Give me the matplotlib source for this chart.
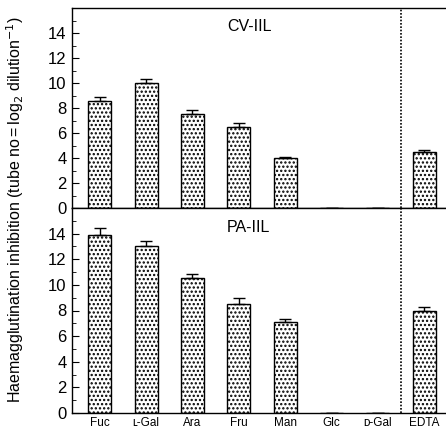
import matplotlib
matplotlib.use("Agg")
import matplotlib.pyplot as plt
import numpy as np
from matplotlib.ticker import MultipleLocator

# ============ DATA ============
sugars = ["Fuc", "\u029f-Gal", "Ara", "Fru", "Man", "Glc", "\u1d05-Gal", "EDTA"]
cv_vals = [8.55, 10.0, 7.55, 6.5, 4.0, 0.0, 0.0, 4.5]
cv_err = [0.3, 0.35, 0.3, 0.3, 0.1, 0.0, 0.0, 0.12]
pa_vals = [13.9, 13.0, 10.5, 8.5, 7.1, 0.0, 0.0, 8.0]
pa_err = [0.55, 0.45, 0.35, 0.45, 0.25, 0.0, 0.0, 0.3]
panel_names = ["CV-IIL", "PA-IIL"]

plt.rcParams['font.family'] = ['Liberation Sans', 'DejaVu Sans']
plt.rcParams['hatch.linewidth'] = 1.1

W, H = 446, 428
fig = plt.figure(figsize=(W / 100, H / 100), dpi=100)

left = 72 / W
width = 380 / W
ax_top = fig.add_axes([left, 1 - 208 / H, width, 200 / H])
ax_bot = fig.add_axes([left, 1 - 413 / H, width, 205 / H])

x = np.arange(len(sugars))

for ax, vals, errs, name in [(ax_top, cv_vals, cv_err, panel_names[0]),
                             (ax_bot, pa_vals, pa_err, panel_names[1])]:
    ax.bar(x, vals, width=0.5, color='white', edgecolor='black',
           linewidth=1.0, hatch='....', zorder=2)
    ax.errorbar(x, vals, yerr=[np.zeros(len(errs)), errs], fmt='none',
                ecolor='black', elinewidth=1.0, capsize=4, capthick=1.0,
                zorder=3)
    ax.axvline(6.5, color='black', linestyle=(0, (1, 1)), linewidth=1.2)
    ax.set_xlim(-0.6, 7.6)
    ax.set_ylim(0, 16)
    ax.yaxis.set_major_locator(MultipleLocator(2))
    ax.yaxis.set_minor_locator(MultipleLocator(1))
    ax.tick_params(axis='y', which='major', direction='in', length=5,
                   labelsize=12, pad=4)
    ax.tick_params(axis='y', which='minor', direction='in', length=3)
    ax.tick_params(axis='x', length=0)
    ax.spines['right'].set_visible(False)
    for s in ax.spines.values():
        s.set_linewidth(1.0)
    ax.text(2.75, 14.5, name, fontsize=11.5, va='center', ha='left')

ax_top.set_xticks([])
ax_top.set_yticks(np.arange(0, 15, 2))
ax_bot.set_yticks(np.arange(0, 15, 2))
ax_bot.set_xticks(x)
ax_bot.set_xticklabels(sugars, fontsize=8.5)
ax_bot.tick_params(axis='x', pad=3)

fig.text(0.033, 0.51,
         "Haemagglutination inhibition (tube no$\\,$=$\\,$log$_2$ dilution$^{-1}$)",
         rotation=90, ha='center', va='center', fontsize=11.5)

fig.savefig("out.png", dpi=100)
